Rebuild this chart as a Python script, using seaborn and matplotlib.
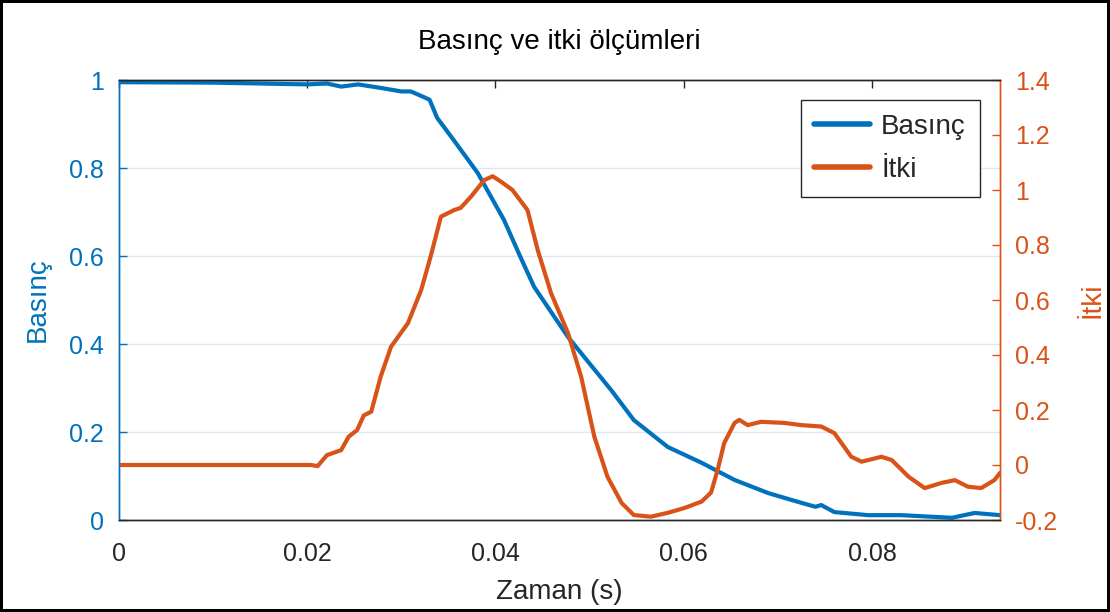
import numpy as np
import pandas as pd
import matplotlib
matplotlib.use("Agg")
import matplotlib.pyplot as plt
from matplotlib.ticker import FuncFormatter
from matplotlib.lines import Line2D
import seaborn as sns

# ---- data ----
basinc_t = [0.0, 0.0100, 0.0200, 0.0221, 0.0236, 0.0254, 0.0278, 0.0300, 0.0310,
            0.0323, 0.0330, 0.0338, 0.0353, 0.0381, 0.0409, 0.0426, 0.0441, 0.0477,
            0.0523, 0.0547, 0.0583, 0.0619, 0.0654, 0.0690, 0.0725, 0.0740, 0.0746,
            0.0760, 0.0796, 0.0831, 0.0885, 0.0909, 0.0936]
basinc_v = [0.995, 0.994, 0.990, 0.992, 0.985, 0.990, 0.982, 0.974, 0.974,
            0.962, 0.955, 0.914, 0.871, 0.789, 0.682, 0.600, 0.530, 0.416,
            0.295, 0.227, 0.166, 0.130, 0.091, 0.061, 0.039, 0.030, 0.034,
            0.018, 0.011, 0.011, 0.005, 0.016, 0.011]

itki_t = [0.0, 0.0204, 0.0211, 0.0221, 0.0236, 0.0244, 0.0253, 0.0260, 0.0268,
          0.0278, 0.0289, 0.0307, 0.0321, 0.0331, 0.0342, 0.0356, 0.0363, 0.0374,
          0.0388, 0.0397, 0.0406, 0.0418, 0.0434, 0.0445, 0.0459, 0.0477, 0.0491,
          0.0505, 0.0519, 0.0534, 0.0547, 0.0565, 0.0583, 0.0601, 0.0619, 0.0629,
          0.0636, 0.0643, 0.0654, 0.0659, 0.0668, 0.0682, 0.0707, 0.0725, 0.0746,
          0.0760, 0.0778, 0.0789, 0.0810, 0.0821, 0.0839, 0.0856, 0.0874, 0.0888,
          0.0902, 0.0916, 0.0930, 0.0936]
itki_v = [0.0, 0.0, -0.004, 0.036, 0.054, 0.103, 0.127, 0.180, 0.194,
          0.321, 0.430, 0.516, 0.636, 0.757, 0.903, 0.927, 0.935, 0.976,
          1.036, 1.050, 1.030, 1.000, 0.927, 0.780, 0.625, 0.480, 0.321,
          0.103, -0.043, -0.138, -0.182, -0.188, -0.174, -0.156, -0.133, -0.100,
          -0.018, 0.080, 0.153, 0.164, 0.145, 0.157, 0.153, 0.145, 0.140,
          0.116, 0.030, 0.012, 0.030, 0.018, -0.043, -0.084, -0.065, -0.055,
          -0.079, -0.084, -0.055, -0.029]

x_ticks = [0, 0.02, 0.04, 0.06, 0.08]
left_ticks = [0, 0.2, 0.4, 0.6, 0.8, 1.0]
right_ticks = [-0.2, 0, 0.2, 0.4, 0.6, 0.8, 1.0, 1.2, 1.4]

title = "Basınç ve itki ölçümleri"
xlabel = "Zaman (s)"
label_left = "Basınç"
label_right = "İtki"

BLUE = "#0072BD"
ORANGE = "#D95319"

sns.set_style("white")
plt.rcParams["font.family"] = ["Liberation Sans", "DejaVu Sans"]

df_b = pd.DataFrame({"t": basinc_t, "v": basinc_v})
df_i = pd.DataFrame({"t": itki_t, "v": itki_v})

fig = plt.figure(figsize=(11.1, 6.12), dpi=100, facecolor="white",
                 edgecolor="black", linewidth=3)
ax = fig.add_axes([119/1110, 1-520/612, 881/1110, 440/612])
ax2 = ax.twinx()

sns.lineplot(data=df_b, x="t", y="v", ax=ax, color=BLUE, linewidth=3.0, estimator=None, sort=False)
sns.lineplot(data=df_i, x="t", y="v", ax=ax2, color=ORANGE, linewidth=3.0, estimator=None, sort=False)

ax.set_xlim(0, 0.0936)
ax.set_ylim(0, 1)
ax2.set_ylim(-0.2, 1.4)

fmt = FuncFormatter(lambda v, p: "%g" % round(v, 4))
ax.set_xticks(x_ticks)
ax.xaxis.set_major_formatter(fmt)
ax.set_yticks(left_ticks)
ax.yaxis.set_major_formatter(fmt)
ax2.set_yticks(right_ticks)
ax2.yaxis.set_major_formatter(fmt)

ax.grid(axis="y", color="#dde8f2", linewidth=1.0)
ax.grid(axis="x", visible=False)
ax2.grid(False)

ax.tick_params(axis="x", direction="in", length=6, width=1, colors="#262626",
               labelsize=18, top=True, pad=16)
ax.tick_params(axis="y", direction="in", length=6, width=1, colors=BLUE,
               labelsize=18, pad=11)
ax2.tick_params(axis="y", direction="in", length=6, width=1, colors=ORANGE,
                labelsize=18, pad=11)

for a in (ax, ax2):
    a.spines["top"].set_color("#262626")
    a.spines["bottom"].set_color("#262626")
    a.spines["left"].set_color(BLUE)
    a.spines["right"].set_color(ORANGE)
    for s in a.spines.values():
        s.set_linewidth(1.0)

ax.set_xlabel(xlabel, fontsize=20, color="#262626", labelpad=9)
ax.set_ylabel(label_left, fontsize=20, color=BLUE, labelpad=13)
ax2.set_ylabel(label_right, fontsize=20, color=ORANGE, rotation=90, labelpad=15)
ax.set_title(title, fontsize=20, color="black", pad=22)

handles = [Line2D([], [], color=BLUE, linewidth=4),
           Line2D([], [], color=ORANGE, linewidth=4)]
leg = ax2.legend(handles, [label_left, label_right], loc="upper right",
                 bbox_to_anchor=(0.977, 0.955), fontsize=20, frameon=True,
                 fancybox=False, edgecolor="#262626", framealpha=1,
                 handlelength=2.0, borderpad=0.5, labelspacing=0.62,
                 handletextpad=0.4, borderaxespad=0)
leg.get_frame().set_linewidth(1.0)

fig.savefig("out.png", dpi=100, facecolor="white", edgecolor=fig.get_edgecolor())
